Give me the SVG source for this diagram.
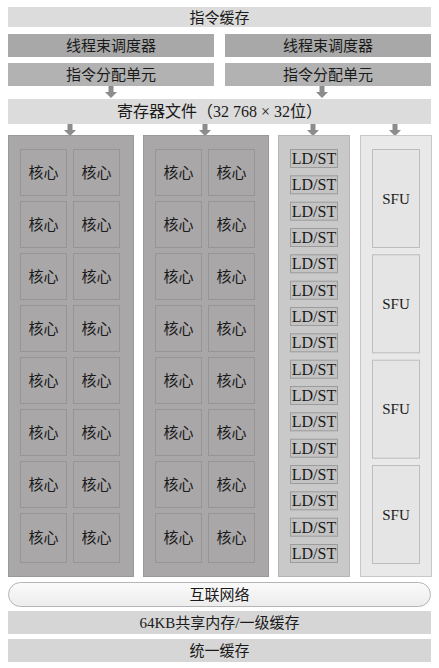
<svg xmlns="http://www.w3.org/2000/svg" width="439" height="668" viewBox="0 0 439 668">
<style>
text{font-family:"Liberation Serif","Noto Sans CJK SC",serif;font-size:15px;fill:#1a1a1a;text-anchor:middle;dominant-baseline:central}
.bar{stroke:none}
.c1{fill:#dcdcdc}
.c2{fill:#a8a8a8}
.c3{fill:#b2b2b2}
.col{fill:#a9a7a8;stroke:#999}
.core{fill:#a9a7a8;stroke:#959595;stroke-width:1}
.ldcol{fill:#c9c9c9;stroke:#b5b5b5}
.ld{fill:#c3c3c3;stroke:#9c9c9c}
.sfucol{fill:#e9e9e9;stroke:#c8c8c8}
.sfu{fill:#e5e5e5;stroke:#bdbdbd}
.arr{fill:#8c8c8c}
.lt{font-size:16px}
.st{font-size:15px}
</style>
<defs>
<path id="ar" d="M-2.5,0 H2.5 V6 H6 L0,12 L-6,6 H-2.5 Z"/>
<linearGradient id="pill" x1="0" y1="0" x2="0" y2="1"><stop offset="0" stop-color="#fbfbfb"/><stop offset="1" stop-color="#ececec"/></linearGradient>
</defs>
<rect width="439" height="668" fill="#fff"/>
<g id="icache"><rect class="bar c1" x="8" y="7" width="423" height="20"/><text x="219.5" y="17.5">指令缓存</text></g>
<g id="warp1"><rect class="bar c2" x="8" y="34" width="206" height="23"/><text x="111" y="45.5">线程束调度器</text></g>
<g id="warp2"><rect class="bar c2" x="225" y="34" width="206" height="23"/><text x="328" y="45.5">线程束调度器</text></g>
<g id="disp1"><rect class="bar c3" x="8" y="63" width="206" height="23"/><text x="111" y="74.5">指令分配单元</text></g>
<g id="disp2"><rect class="bar c3" x="225" y="63" width="206" height="23"/><text x="328" y="74.5">指令分配单元</text></g>
<g id="regfile"><rect class="bar c1" x="8" y="99" width="423" height="25"/><text x="219.5" y="111.5" style="font-size:16px">寄存器文件（32 768 × 32位）</text></g>
<g id="connectors">
<use href="#ar" class="arr" x="111" y="86"/>
<use href="#ar" class="arr" x="322" y="86"/>
<use href="#ar" class="arr" x="70" y="124"/>
<use href="#ar" class="arr" x="205" y="124"/>
<use href="#ar" class="arr" x="313" y="124"/>
<use href="#ar" class="arr" x="395" y="124"/>
</g>
<g id="cores1">
<rect class="col" x="8.5" y="135.5" width="125" height="441"/>
<rect class="core" x="20.5" y="149.5" width="46" height="46"/><text x="43.5" y="172.5">核心</text>
<rect class="core" x="73.5" y="149.5" width="46" height="46"/><text x="96.5" y="172.5">核心</text>
<rect class="core" x="20.5" y="201.5" width="46" height="46"/><text x="43.5" y="224.5">核心</text>
<rect class="core" x="73.5" y="201.5" width="46" height="46"/><text x="96.5" y="224.5">核心</text>
<rect class="core" x="20.5" y="253.5" width="46" height="46"/><text x="43.5" y="276.5">核心</text>
<rect class="core" x="73.5" y="253.5" width="46" height="46"/><text x="96.5" y="276.5">核心</text>
<rect class="core" x="20.5" y="305.5" width="46" height="46"/><text x="43.5" y="328.5">核心</text>
<rect class="core" x="73.5" y="305.5" width="46" height="46"/><text x="96.5" y="328.5">核心</text>
<rect class="core" x="20.5" y="357.5" width="46" height="46"/><text x="43.5" y="380.5">核心</text>
<rect class="core" x="73.5" y="357.5" width="46" height="46"/><text x="96.5" y="380.5">核心</text>
<rect class="core" x="20.5" y="409.5" width="46" height="46"/><text x="43.5" y="432.5">核心</text>
<rect class="core" x="73.5" y="409.5" width="46" height="46"/><text x="96.5" y="432.5">核心</text>
<rect class="core" x="20.5" y="461.5" width="46" height="46"/><text x="43.5" y="484.5">核心</text>
<rect class="core" x="73.5" y="461.5" width="46" height="46"/><text x="96.5" y="484.5">核心</text>
<rect class="core" x="20.5" y="513.5" width="46" height="49"/><text x="43.5" y="538">核心</text>
<rect class="core" x="73.5" y="513.5" width="46" height="49"/><text x="96.5" y="538">核心</text>
</g>
<g id="cores2">
<rect class="col" x="143.5" y="135.5" width="125" height="441"/>
<rect class="core" x="155.5" y="149.5" width="46" height="46"/><text x="178.5" y="172.5">核心</text>
<rect class="core" x="208.5" y="149.5" width="46" height="46"/><text x="231.5" y="172.5">核心</text>
<rect class="core" x="155.5" y="201.5" width="46" height="46"/><text x="178.5" y="224.5">核心</text>
<rect class="core" x="208.5" y="201.5" width="46" height="46"/><text x="231.5" y="224.5">核心</text>
<rect class="core" x="155.5" y="253.5" width="46" height="46"/><text x="178.5" y="276.5">核心</text>
<rect class="core" x="208.5" y="253.5" width="46" height="46"/><text x="231.5" y="276.5">核心</text>
<rect class="core" x="155.5" y="305.5" width="46" height="46"/><text x="178.5" y="328.5">核心</text>
<rect class="core" x="208.5" y="305.5" width="46" height="46"/><text x="231.5" y="328.5">核心</text>
<rect class="core" x="155.5" y="357.5" width="46" height="46"/><text x="178.5" y="380.5">核心</text>
<rect class="core" x="208.5" y="357.5" width="46" height="46"/><text x="231.5" y="380.5">核心</text>
<rect class="core" x="155.5" y="409.5" width="46" height="46"/><text x="178.5" y="432.5">核心</text>
<rect class="core" x="208.5" y="409.5" width="46" height="46"/><text x="231.5" y="432.5">核心</text>
<rect class="core" x="155.5" y="461.5" width="46" height="46"/><text x="178.5" y="484.5">核心</text>
<rect class="core" x="208.5" y="461.5" width="46" height="46"/><text x="231.5" y="484.5">核心</text>
<rect class="core" x="155.5" y="513.5" width="46" height="49"/><text x="178.5" y="538">核心</text>
<rect class="core" x="208.5" y="513.5" width="46" height="49"/><text x="231.5" y="538">核心</text>
</g>
<g id="ldst">
<rect class="ldcol" x="278.5" y="135.5" width="71" height="441"/>
<rect class="ld" x="290.5" y="149.5" width="47" height="18"/><text class="lt" x="314" y="158.5">LD/ST</text>
<rect class="ld" x="290.5" y="175.8" width="47" height="18"/><text class="lt" x="314" y="184.8">LD/ST</text>
<rect class="ld" x="290.5" y="202.2" width="47" height="18"/><text class="lt" x="314" y="211.2">LD/ST</text>
<rect class="ld" x="290.5" y="228.5" width="47" height="18"/><text class="lt" x="314" y="237.5">LD/ST</text>
<rect class="ld" x="290.5" y="254.8" width="47" height="18"/><text class="lt" x="314" y="263.8">LD/ST</text>
<rect class="ld" x="290.5" y="281.2" width="47" height="18"/><text class="lt" x="314" y="290.2">LD/ST</text>
<rect class="ld" x="290.5" y="307.5" width="47" height="18"/><text class="lt" x="314" y="316.5">LD/ST</text>
<rect class="ld" x="290.5" y="333.8" width="47" height="18"/><text class="lt" x="314" y="342.8">LD/ST</text>
<rect class="ld" x="290.5" y="360.2" width="47" height="18"/><text class="lt" x="314" y="369.2">LD/ST</text>
<rect class="ld" x="290.5" y="386.5" width="47" height="18"/><text class="lt" x="314" y="395.5">LD/ST</text>
<rect class="ld" x="290.5" y="412.8" width="47" height="18"/><text class="lt" x="314" y="421.8">LD/ST</text>
<rect class="ld" x="290.5" y="439.2" width="47" height="18"/><text class="lt" x="314" y="448.2">LD/ST</text>
<rect class="ld" x="290.5" y="465.5" width="47" height="18"/><text class="lt" x="314" y="474.5">LD/ST</text>
<rect class="ld" x="290.5" y="491.8" width="47" height="18"/><text class="lt" x="314" y="500.8">LD/ST</text>
<rect class="ld" x="290.5" y="518.2" width="47" height="18"/><text class="lt" x="314" y="527.2">LD/ST</text>
<rect class="ld" x="290.5" y="544.5" width="47" height="18"/><text class="lt" x="314" y="553.5">LD/ST</text>
</g>
<g id="sfu">
<rect class="sfucol" x="360.5" y="135.5" width="71" height="441"/>
<rect class="sfu" x="372.5" y="149.5" width="47" height="98"/><text class="st" x="396" y="198.5">SFU</text>
<rect class="sfu" x="372.5" y="254.8" width="47" height="98"/><text class="st" x="396" y="303.8">SFU</text>
<rect class="sfu" x="372.5" y="360.2" width="47" height="98"/><text class="st" x="396" y="409.2">SFU</text>
<rect class="sfu" x="372.5" y="465.5" width="47" height="98"/><text class="st" x="396" y="514.5">SFU</text>
</g>
<g id="interconnect"><rect x="8.5" y="582.5" width="422" height="24" rx="12" ry="12" fill="url(#pill)" stroke="#b5b5b5"/><text x="219.5" y="594.5">互联网络</text></g>
<g id="shmem"><rect class="bar" fill="#d6d6d6" x="8" y="611" width="423" height="23"/><text x="219.5" y="622.5">64KB共享内存/一级缓存</text></g>
<g id="ucache"><rect class="bar" fill="#d6d6d6" x="8" y="639" width="423" height="23"/><text x="219.5" y="650.5">统一缓存</text></g>
</svg>
